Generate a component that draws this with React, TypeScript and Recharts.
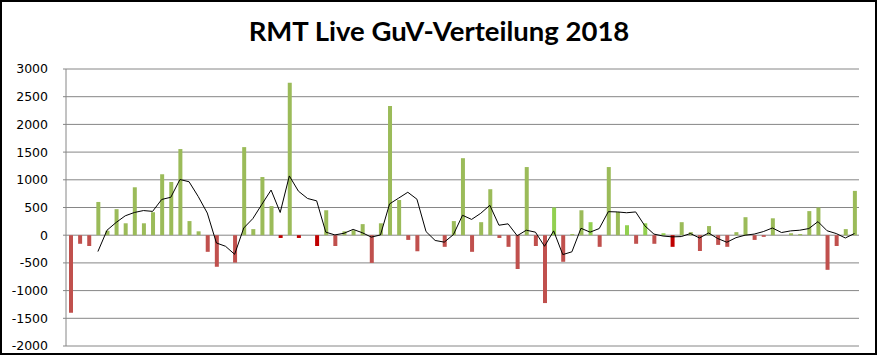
import { ComposedChart, Bar, Line, XAxis, YAxis, CartesianGrid, Cell } from "recharts";

// daily P&L per trade day (bars)
const pnl = [
  -1400, -155, -195, 600, 80, 470, 215, 865, 215, 415, 1100, 960, 1555, 255, 70, -300, -570, 0, -495, 1590,
  110, 1050, 525, -50, 2750, -50, 0, -195, 450, -195, 70, 90, 200, -500, 215, 2330, 635, -85, -290, 0,
  0, -210, 255, 1390, -300, 235, 830, -50, -210, -610, 1230, -195, -1225, 500, -480, 20, 450, 235, -210, 1230,
  420, 180, -155, 215, -155, 35, -210, 235, 55, -285, 165, -175, -210, 55, 325, -85, -30, 305, 0, 35,
  20, 435, 500, -625, -195, 110, 800,
];

// black trend line (4-day average)
const trend = [
  null, null, null, -295, 90, 230, 350, 410, 445, 430, 645, 685, 1005, 965, 700, 400, -140, -200, -345, 130,
  300, 560, 815, 410, 1070, 795, 663, 620, 55, 5, 35, 105, 45, -35, 5, 565, 670, 775, 650, 65,
  -95, -125, 10, 360, 285, 395, 540, 180, 205, -10, 90, 55, -200, 78, -350, -300, 125, 55, 120, 425,
  420, 405, 420, 170, 20, -15, -30, -25, 30, -50, 40, -60, -127, -45, 0, 20, 65, 130, 48, 78,
  90, 120, 245, 80, 30, -50, 30,
];

const days = pnl.map((_, i) => `T${i + 1}`);
const yTicks = [3000, 2500, 2000, 1500, 1000, 500, 0, -500, -1000, -1500, -2000];

const GREEN = "#9BBB59";
const LIGHT_GREEN = "#92D050";
const RED = "#C0504D";
const DARK_RED = "#C00000";
const lightGreenDays = [53, 57, 61, 63, 65];
const darkRedDays = [23, 25, 27, 66];

const data = days.map((day, i) => ({ day, pnl: pnl[i], trend: trend[i] }));

function barColor(i: number, v: number) {
  if (v < 0) return darkRedDays.includes(i) ? DARK_RED : RED;
  return lightGreenDays.includes(i) ? LIGHT_GREEN : GREEN;
}

export default function App() {
  return (
    <div style={{ position: "absolute", left: 0, top: 0, width: 878, height: 355, background: "#fff" }}>
      <div
        style={{
          position: "absolute",
          left: 0,
          top: 0,
          width: 877,
          height: 355,
          border: "2px solid #000",
          boxSizing: "border-box",
          pointerEvents: "none",
          zIndex: 2,
        }}
      />
      <div
        style={{
          position: "absolute",
          left: 0,
          top: 17,
          width: 878,
          textAlign: "center",
          fontFamily: "Lato, 'Open Sans', sans-serif",
          fontWeight: 700,
          fontSize: 27.5,
          lineHeight: "27.5px",
          color: "#000",
        }}
      >
        RMT Live GuV-Verteilung 2018
      </div>
      <ComposedChart width={878} height={355} data={data} margin={{ top: 69, right: 19, bottom: 9, left: 0 }}>
        <CartesianGrid vertical={false} stroke="#868686" />
        <XAxis dataKey="day" hide />
        <YAxis
          domain={[-2000, 3000]}
          ticks={yTicks}
          interval={0}
          width={66}
          axisLine={{ stroke: "#868686" }}
          tickLine={{ stroke: "#868686" }}
          tickSize={3}
          tickMargin={15}
          tick={{ fontSize: 12.5, fontFamily: "'DejaVu Sans', sans-serif", fill: "#000" }}
        />
        <Bar dataKey="pnl" barSize={4} isAnimationActive={false}>
          {data.map((d, i) => (
            <Cell key={d.day} fill={barColor(i, d.pnl)} />
          ))}
        </Bar>
        <Line
          dataKey="trend"
          type="linear"
          stroke="#000"
          strokeWidth={1}
          dot={false}
          connectNulls={false}
          isAnimationActive={false}
        />
      </ComposedChart>
    </div>
  );
}
